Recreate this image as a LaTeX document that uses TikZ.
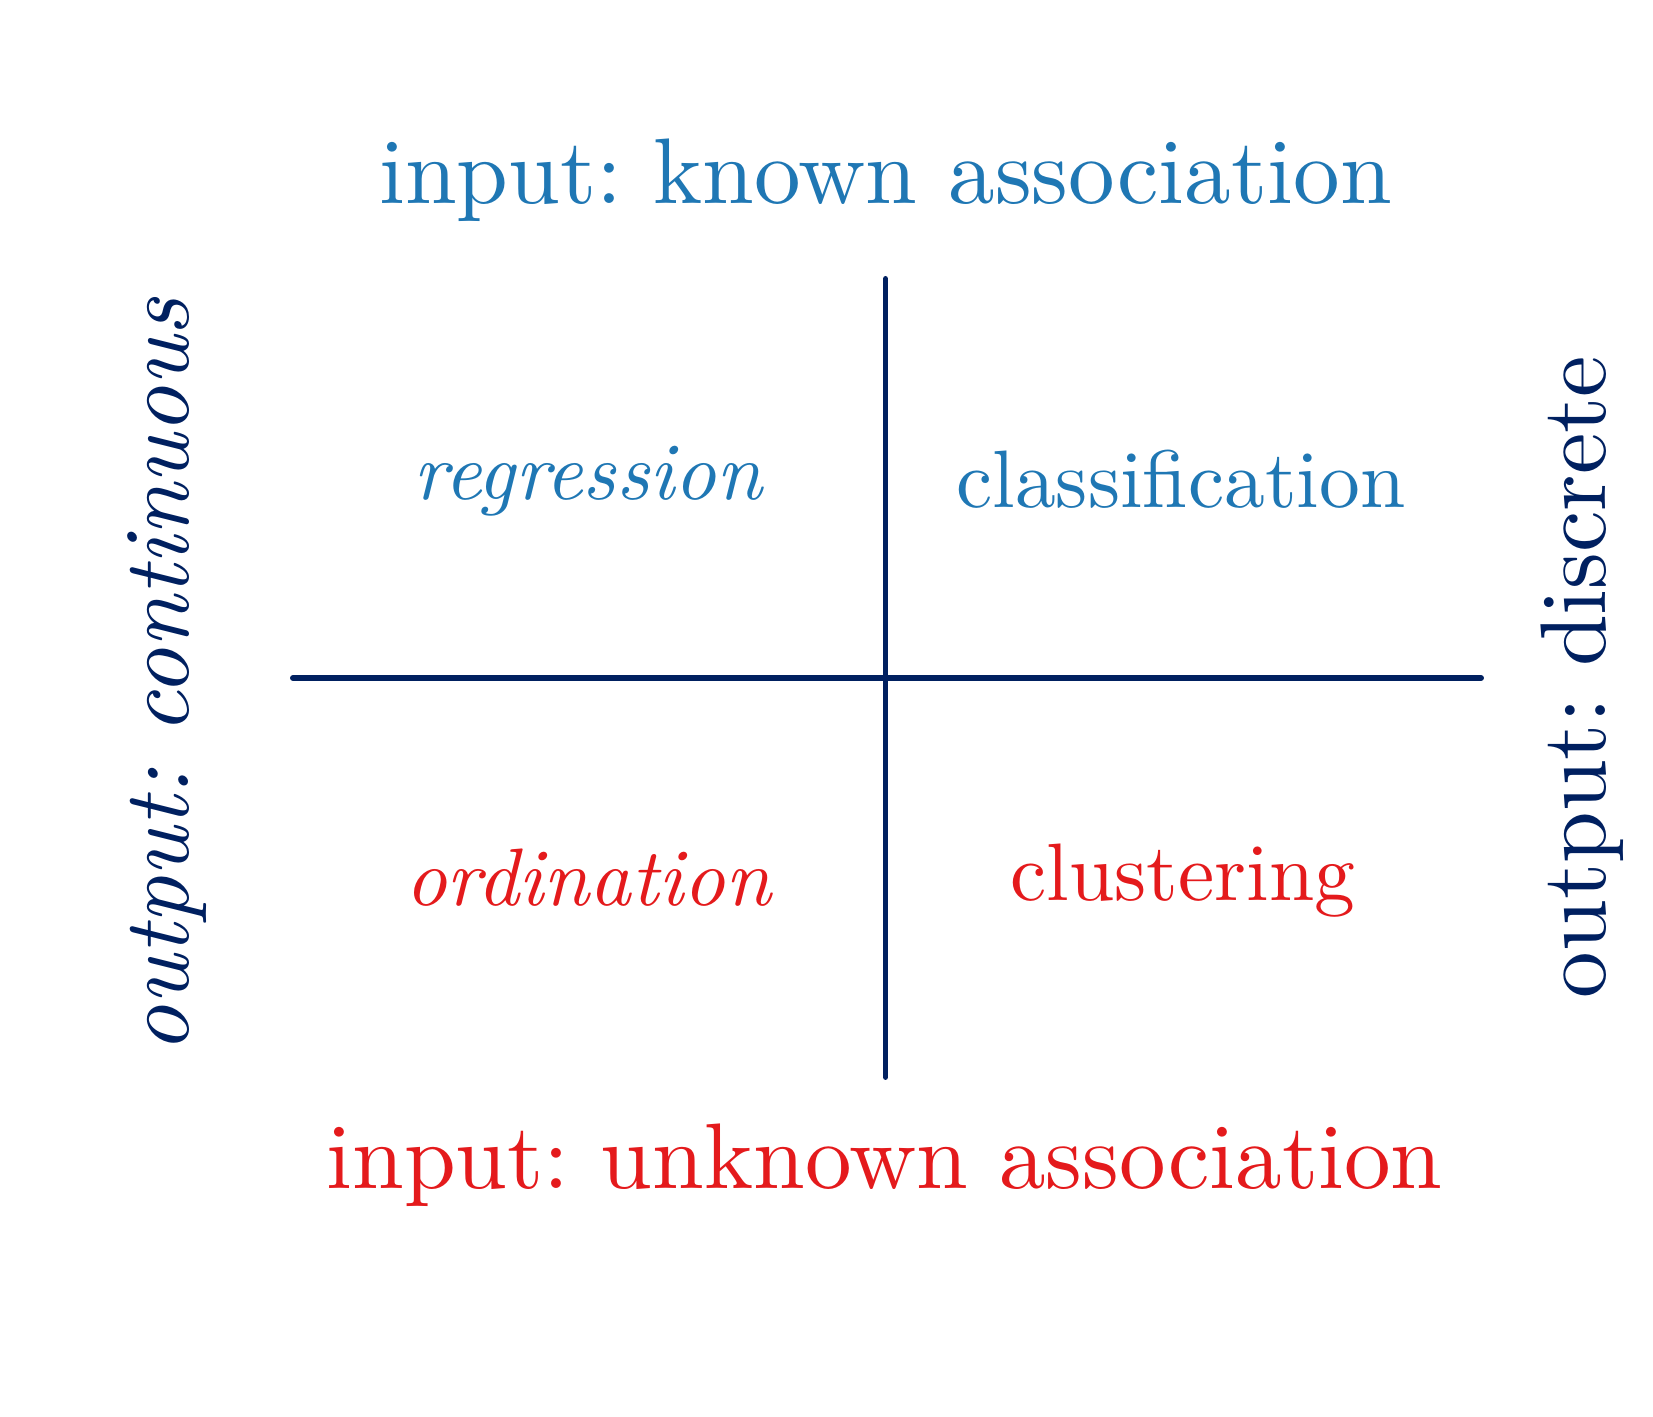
\documentclass[tikz,border=0pt]{standalone}
\definecolor{knownblue}{HTML}{1F77B4}
\definecolor{unknownred}{HTML}{E41A1C}
\definecolor{axisnavy}{HTML}{002060}
\frenchspacing
\begin{document}
\begin{tikzpicture}[line join=round, line cap=round,
	biglabel/.style={scale=2.65, transform shape, anchor=base, inner sep=0pt},
	quadlabel/.style={scale=2.32, transform shape, anchor=base, inner sep=0pt}]
	\useasboundingbox (0,0) rectangle (16.53,14.17);
	\path
	(8.855,11.38) coordinate (T)
	(8.855,3.40) coordinate (B)
	(2.93,7.39) coordinate (L)
	(14.81,7.39) coordinate (R);
	\draw[axisnavy, line width=1.7pt] (T)--(B) (L)--(R);
	% outer labels
	\node[biglabel, text=knownblue] (known) at (8.855,12.13) {input: known association};
	\node[biglabel, text=unknownred] (unknown) at (8.845,2.28) {input: unknown association};
	\node[biglabel, text=axisnavy, rotate=90] (cont) at (1.88,7.41) {\itshape output: continuous};
	\node[biglabel, text=axisnavy, rotate=90] (disc) at (16.05,7.40) {output: discrete};
	% quadrants
	\node[quadlabel, text=knownblue] (regr) at (5.88,9.17) {\itshape regression};
	\node[quadlabel, text=knownblue] (class) at (11.81,9.09) {classification};
	\node[quadlabel, text=unknownred] (ord) at (5.88,5.11) {\itshape ordination};
	\node[quadlabel, text=unknownred] (clust) at (11.83,5.16) {clustering};
\end{tikzpicture}
\end{document}
